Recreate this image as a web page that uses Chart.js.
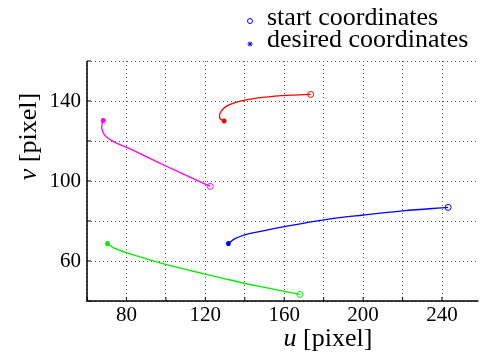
<!DOCTYPE html>
<html><head><meta charset="utf-8">
<style>html,body{margin:0;padding:0;background:#fff;}#wrap{width:484px;height:363px;}</style>
<script src="https://cdn.jsdelivr.net/npm/chart.js@4.4.1/dist/chart.umd.min.js"></script>
</head><body><div id="wrap"><canvas id="c" width="484" height="363"></canvas></div>
<script>
const xGridTicks = [60, 80, 100, 120, 140, 160, 180, 200, 220, 240];
const xLabels = [80, 120, 160, 200, 240];
const yGridTicks = [40, 60, 80, 100, 120, 140, 160];
const yLabels = [60, 100, 140];

const uRed = [173.4, 163.4, 155.1, 146.7, 140.0, 135.0, 131.7, 129.2, 127.8, 127.2, 127.5, 129.5];
const vRed = [143.3, 142.9, 142.4, 141.6, 140.4, 139.2, 137.9, 136.2, 134.5, 132.9, 131.2, 130.0];
const uMag = [122.5, 113.3, 105.0, 96.6, 88.2, 79.9, 73.2, 69.0, 67.5, 67.7, 68.2];
const vMag = [97.3, 101.4, 105.2, 109.1, 113.1, 116.9, 119.8, 122.8, 126.2, 128.7, 130.2];
const uGreen = [167.9, 146.7, 130.0, 113.3, 96.6, 79.9, 73.2, 70.4];
const vGreen = [43.3, 47.4, 51.1, 55.0, 59.2, 64.2, 66.7, 68.7];
const uBlue = [243.1, 220.2, 200.2, 180.2, 160.1, 146.7, 140.0, 135.0, 131.7];
const vBlue = [86.8, 85.1, 83.0, 80.6, 77.2, 74.6, 73.1, 71.2, 68.7];

const legendItems = ['start coordinates', 'desired coordinates'];
const xTitleVar = 'u', yTitleVar = 'v', titleUnit = ' [pixel]';

function pts(u, v) { return u.map((x, i) => ({x: x, y: v[i]})); }
function ds(u, v, color) {
  const n = u.length;
  return {
    data: pts(u, v), borderColor: color, backgroundColor: color, showLine: true,
    borderWidth: 1.3, tension: 0.35, fill: false,
    pointRadius: ctx => ctx.dataIndex === 0 ? 3 : (ctx.dataIndex === n - 1 ? 2.5 : 0),
    pointStyle: ctx => ctx.dataIndex === 0 ? 'circle' : 'star',
    pointBackgroundColor: ctx => ctx.dataIndex === 0 ? 'rgba(0,0,0,0)' : color,
    pointBorderColor: color,
    pointBorderWidth: ctx => ctx.dataIndex === 0 ? 1 : 1.5,
  };
}

const FONT = "'Liberation Serif', 'DejaVu Serif', serif";
const BIG = 26;

const deco = {
  id: 'deco',
  afterDraw(chart) {
    const ctx = chart.ctx, a = chart.chartArea;
    const xs = chart.scales.x, ys = chart.scales.y;
    ctx.save();
    ctx.strokeStyle = '#000'; ctx.lineWidth = 1.5; ctx.setLineDash([]);
    ctx.beginPath();
    ctx.moveTo(a.left, a.top); ctx.lineTo(a.left, a.bottom); ctx.lineTo(a.right, a.bottom);
    ctx.stroke();
    ctx.lineWidth = 1;
    ctx.beginPath();
    xGridTicks.forEach(t => { const p = xs.getPixelForValue(t); ctx.moveTo(p, a.bottom); ctx.lineTo(p, a.bottom - 4); });
    yGridTicks.forEach(t => { const p = ys.getPixelForValue(t); ctx.moveTo(a.left, p); ctx.lineTo(a.left + 4, p); });
    ctx.stroke();
    // legend
    ctx.fillStyle = '#000';
    ctx.font = BIG + 'px ' + FONT;
    ctx.textBaseline = 'alphabetic'; ctx.textAlign = 'left';
    ctx.fillText(legendItems[0], 267, 24.5);
    ctx.fillText(legendItems[1], 267, 46.5);
    ctx.strokeStyle = '#0000ff'; ctx.fillStyle = '#0000ff'; ctx.lineWidth = 1;
    ctx.beginPath(); ctx.arc(250, 21, 2.5, 0, Math.PI * 2); ctx.stroke();
    Chart.helpers.drawPoint(ctx, {pointStyle: 'star', radius: 2.5, borderWidth: 1.5}, 250, 44);
    // axis titles
    ctx.fillStyle = '#000';
    ctx.font = 'italic ' + BIG + 'px ' + FONT;
    const w1 = ctx.measureText(xTitleVar).width;
    ctx.font = BIG + 'px ' + FONT;
    const w2 = ctx.measureText(titleUnit).width;
    let x0 = 328 - (w1 + w2) / 2;
    ctx.font = 'italic ' + BIG + 'px ' + FONT; ctx.fillText(xTitleVar, x0, 346);
    ctx.font = BIG + 'px ' + FONT; ctx.fillText(titleUnit, x0 + w1, 346);
    ctx.save();
    ctx.translate(35.5, 136.5); ctx.rotate(-Math.PI / 2);
    ctx.font = 'italic ' + BIG + 'px ' + FONT;
    const w3 = ctx.measureText(yTitleVar).width;
    ctx.font = BIG + 'px ' + FONT;
    const w4 = ctx.measureText(titleUnit).width;
    let y0 = -(w3 + w4) / 2;
    ctx.font = 'italic ' + BIG + 'px ' + FONT; ctx.fillText(yTitleVar, y0, 0);
    ctx.font = BIG + 'px ' + FONT; ctx.fillText(titleUnit, y0 + w3, 0);
    ctx.restore();
    ctx.restore();
  }
};

new Chart(document.getElementById('c'), {
  type: 'scatter',
  data: { datasets: [
    ds(uRed, vRed, '#ff0000'),
    ds(uMag, vMag, '#ff00ff'),
    ds(uGreen, vGreen, '#00ee00'),
    ds(uBlue, vBlue, '#0000ff'),
  ]},
  options: {
    responsive: false, animation: false, devicePixelRatio: 1,
    layout: { padding: { top: 61, right: 1, left: 0, bottom: 0 } },
    plugins: { legend: { display: false }, tooltip: { enabled: false } },
    scales: {
      x: {
        type: 'linear', min: 60, max: 258.5,
        afterBuildTicks: s => { s.ticks = xGridTicks.map(v => ({value: v})); },
        afterFit: s => { s.height = 62; },
        ticks: { color: '#000', font: { family: FONT, size: 21 }, padding: 2, maxRotation: 0, autoSkip: false,
          callback: v => xLabels.includes(v) ? String(v) : '' },
        grid: { color: '#555', lineWidth: 1, drawTicks: false },
        border: { display: false, dash: [1, 3] }
      },
      y: {
        type: 'linear', min: 40, max: 160,
        afterBuildTicks: s => { s.ticks = yGridTicks.map(v => ({value: v})); },
        afterFit: s => { s.width = 87; },
        ticks: { color: '#000', font: { family: FONT, size: 21 }, padding: 6, autoSkip: false,
          callback: v => yLabels.includes(v) ? String(v) : '' },
        grid: { color: '#555', lineWidth: 1, drawTicks: false },
        border: { display: false, dash: [1, 3] }
      }
    }
  },
  plugins: [deco]
});
</script></body></html>
